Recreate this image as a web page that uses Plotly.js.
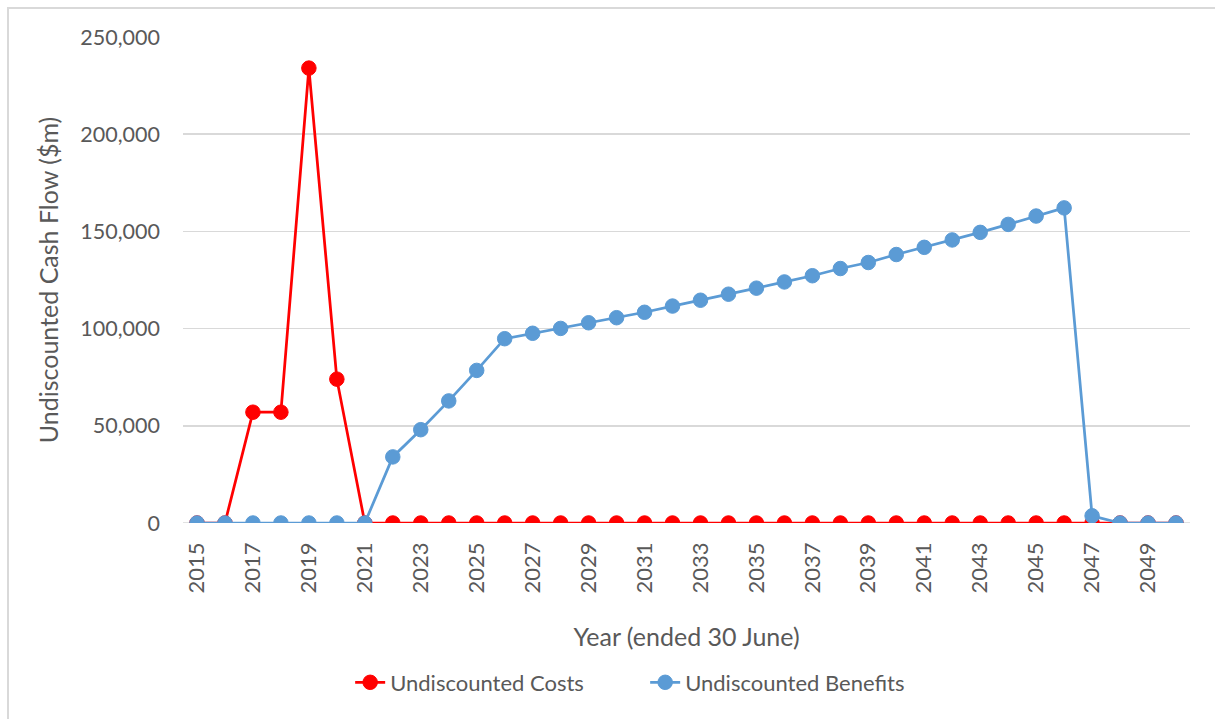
<!DOCTYPE html>
<html>
<head>
<meta charset="utf-8">
<script src="https://cdn.plot.ly/plotly-3.0.1.min.js"></script>
<style>
  html, body { margin: 0; padding: 0; background: #fff; }
  #wrap { position: relative; width: 1215px; height: 719px; overflow: hidden; }
  #frame { position: absolute; left: 7px; top: 7px; width: 1230px; height: 740px;
           border-left: 2px solid #D9D9D9; border-top: 2px solid #D9D9D9; pointer-events: none; }
  #chart { position: absolute; left: 0; top: 0; width: 1215px; height: 719px; }
</style>
</head>
<body>
<div id="wrap">
  <div id="chart"></div>
  <div id="frame"></div>
</div>
<script>
const years = [2015,2016,2017,2018,2019,2020,2021,2022,2023,2024,2025,2026,2027,2028,2029,2030,2031,2032,
               2033,2034,2035,2036,2037,2038,2039,2040,2041,2042,2043,2044,2045,2046,2047,2048,2049,2050];
const tickYears = [2015,2017,2019,2021,2023,2025,2027,2029,2031,2033,2035,2037,2039,2041,2043,2045,2047,2049];
const costs = [0,0,57000,57000,234000,74000,0,0,0,0,0,0,0,0,0,0,0,0,
               0,0,0,0,0,0,0,0,0,0,0,0,0,0,0,0,0,0];
const benefits = [0,0,0,0,0,0,0,34000,48000,62800,78500,94800,97600,100100,103000,105600,108400,111600,
                  114600,117700,120800,124000,127200,130900,134000,138100,141800,145600,149500,153600,157900,162100,3700,0,0,0];
const yTicks = [0,50000,100000,150000,200000,250000];
const yTickText = ["0","50,000","100,000","150,000","200,000","250,000"];

const FONT = "Lato, 'Open Sans', sans-serif";
const TXT = "#595959";

const traces = [
  { x: years, y: costs, name: "Undiscounted Costs", type: "scatter", mode: "lines+markers",
    line: { color: "#FF0000", width: 2.75 },
    marker: { color: "#FF0000", size: 14.5, line: { color: "#FF0000", width: 1 } } },
  { x: years, y: benefits, name: "Undiscounted Benefits", type: "scatter", mode: "lines+markers",
    line: { color: "#5B9BD5", width: 2.75 },
    marker: { color: "#5B9BD5", size: 14.5, line: { color: "#5B9BD5", width: 1 } } }
];

const layout = {
  width: 1215, height: 719,
  margin: { l: 183, r: 25, t: 37, b: 196 },
  paper_bgcolor: "rgba(0,0,0,0)", plot_bgcolor: "rgba(0,0,0,0)",
  font: { family: FONT, color: TXT, size: 21 },
  showlegend: true,
  legend: { orientation: "h", x: 0.166, xanchor: "left", y: -0.285, yanchor: "top",
            entrywidth: 250, entrywidthmode: "pixels",
            font: { family: FONT, color: TXT, size: 22 }, traceorder: "normal" },
  xaxis: {
    range: [2014.5, 2050.5],
    tickmode: "array", tickvals: tickYears, ticktext: tickYears.map(String),
    tickangle: -90, ticks: "", ticklabelstandoff: 14,
    showgrid: false, zeroline: false, showline: false,
    tickfont: { family: FONT, color: TXT, size: 22 },
    title: { text: "Year (ended 30 June)", font: { family: FONT, color: TXT, size: 25 }, standoff: 36 }
  },
  yaxis: {
    range: [0, 250000],
    tickmode: "array", tickvals: yTicks, ticktext: yTickText,
    ticks: "", ticklabelstandoff: 22,
    showgrid: true, gridcolor: "#D9D9D9", gridwidth: 1.5,
    zeroline: false, showline: false,
    tickfont: { family: FONT, color: TXT, size: 21.5 },
    title: { text: "Undiscounted Cash Flow ($m)", font: { family: FONT, color: TXT, size: 25 }, standoff: 14 }
  },
  shapes: [
    { type: "line", xref: "paper", yref: "y", x0: 0, x1: 1, y0: 0, y1: 0,
      line: { color: "#D9D9D9", width: 1.5 }, layer: "below" }
  ]
};

Plotly.newPlot("chart", traces, layout, { displayModeBar: false, staticPlot: true });
</script>
</body>
</html>
